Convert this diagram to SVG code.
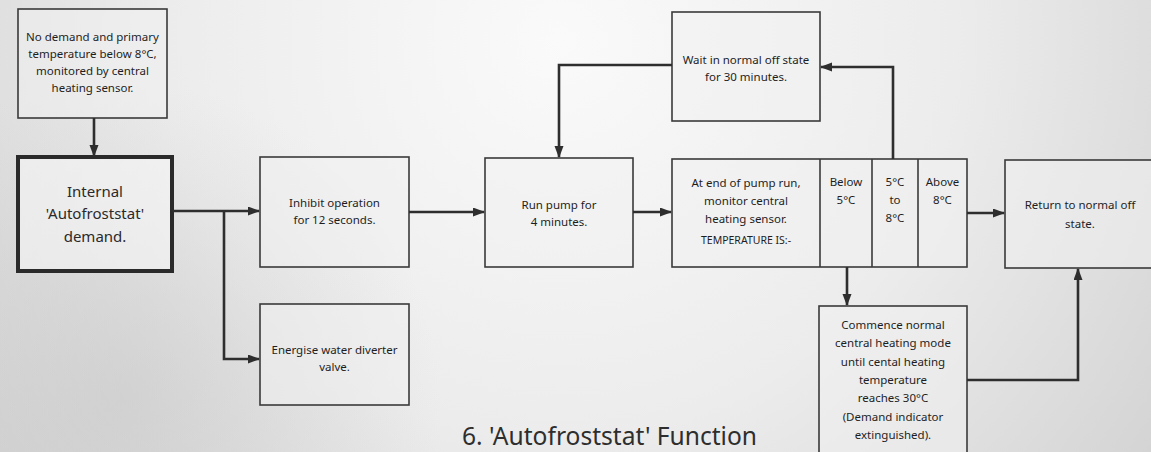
<svg xmlns="http://www.w3.org/2000/svg" width="1151" height="452" viewBox="0 0 1151 452">
<defs>
<style>
.box{fill:#f1f1f1;fill-opacity:0.55;stroke:#3a3a3a;stroke-width:1.6}
.thick{fill:#f6f6f6;fill-opacity:0.6;stroke:#2a2a2a;stroke-width:4}
.t{font-family:"Noto Sans","Open Sans",sans-serif;font-size:11.5px;fill:#1e1e1e;text-anchor:middle}
.tb{font-family:"Noto Sans","Open Sans",sans-serif;font-size:15px;fill:#2a2a2a;text-anchor:middle}
.title{font-family:"Noto Sans","Open Sans",sans-serif;font-size:26px;fill:#2e2e2e}
.c{fill:none;stroke:#2e2e2e;stroke-width:2.6;marker-end:url(#ah)}
.div{stroke:#3a3a3a;stroke-width:1.6}
</style>
<marker id="ah" markerUnits="userSpaceOnUse" markerWidth="12" markerHeight="10" refX="11" refY="4.5" orient="auto">
<path d="M0,0 L12,4.5 L0,9 z" fill="#2e2e2e"/>
</marker>
<radialGradient id="bg1" cx="560" cy="40" r="720" gradientUnits="userSpaceOnUse">
<stop offset="0" stop-color="#fafafa"/>
<stop offset="0.55" stop-color="#ececec"/>
<stop offset="1" stop-color="#d4d4d4"/>
</radialGradient>
<radialGradient id="bg2" cx="120" cy="400" r="320" gradientUnits="userSpaceOnUse">
<stop offset="0" stop-color="#c8c8c8" stop-opacity="0.6"/>
<stop offset="1" stop-color="#c8c8c8" stop-opacity="0"/>
</radialGradient>
</defs>
<rect width="1151" height="452" fill="url(#bg1)"/>
<rect width="1151" height="452" fill="url(#bg2)"/>

<g id="n1">
<rect class="box" x="18" y="9" width="149" height="109"/>
<text class="t" x="92.5" y="41">No demand and primary</text>
<text class="t" x="92.5" y="58">temperature below 8°C,</text>
<text class="t" x="92.5" y="75">monitored by central</text>
<text class="t" x="92.5" y="92">heating sensor.</text>
</g>
<g id="n2">
<rect class="thick" x="18" y="157" width="154" height="114"/>
<text class="tb" x="95" y="197">Internal</text>
<text class="tb" x="95" y="219">'Autofroststat'</text>
<text class="tb" x="95" y="242">demand.</text>
</g>
<g id="n3">
<rect class="box" x="260" y="157" width="149" height="110"/>
<text class="t" x="334.5" y="207">Inhibit operation</text>
<text class="t" x="334.5" y="224">for 12 seconds.</text>
</g>
<g id="n4">
<rect class="box" x="260" y="304" width="149" height="101"/>
<text class="t" x="334.5" y="354">Energise water diverter</text>
<text class="t" x="334.5" y="371">valve.</text>
</g>
<g id="n5">
<rect class="box" x="485" y="158" width="148" height="109"/>
<text class="t" x="559" y="209">Run pump for</text>
<text class="t" x="559" y="226">4 minutes.</text>
</g>
<g id="n6">
<rect class="box" x="672" y="12" width="148" height="109"/>
<text class="t" x="746" y="64">Wait in normal off state</text>
<text class="t" x="746" y="81">for 30 minutes.</text>
</g>
<g id="n7">
<rect class="box" x="672" y="159" width="295" height="108"/>
<line class="div" x1="820" y1="159" x2="820" y2="267"/>
<line class="div" x1="872" y1="159" x2="872" y2="267"/>
<line class="div" x1="918" y1="159" x2="918" y2="267"/>
<text class="t" x="746" y="187">At end of pump run,</text>
<text class="t" x="746" y="205">monitor central</text>
<text class="t" x="746" y="223">heating sensor.</text>
<text class="t" x="746" y="244" style="font-size:10.5px">TEMPERATURE IS:-</text>
<text class="t" x="846" y="186">Below</text>
<text class="t" x="846" y="204">5°C</text>
<text class="t" x="895" y="186">5°C</text>
<text class="t" x="895" y="204">to</text>
<text class="t" x="895" y="222">8°C</text>
<text class="t" x="942.5" y="186">Above</text>
<text class="t" x="942.5" y="204">8°C</text>
</g>
<g id="n8">
<rect class="box" x="819" y="306" width="148" height="152"/>
<text class="t" x="893" y="329">Commence normal</text>
<text class="t" x="893" y="347">central heating mode</text>
<text class="t" x="893" y="366">until cental heating</text>
<text class="t" x="893" y="384">temperature</text>
<text class="t" x="893" y="402">reaches 30°C</text>
<text class="t" x="893" y="421">(Demand indicator</text>
<text class="t" x="893" y="439">extinguished).</text>
</g>
<g id="n9">
<rect class="box" x="1005" y="160" width="152" height="108"/>
<text class="t" x="1080" y="209">Return to normal off</text>
<text class="t" x="1080" y="228">state.</text>
</g>

<g id="connectors">
<path class="c" d="M94,118 V156"/>
<path class="c" d="M172,211 H259"/>
<path class="c" d="M224,211 V359 H259"/>
<path class="c" d="M409,212 H484"/>
<path class="c" d="M633,212 H671"/>
<path class="c" d="M672,65 H559 V157"/>
<path class="c" d="M893,159 V67 H821"/>
<path class="c" d="M847,267 V305"/>
<path class="c" d="M967,213 H1004"/>
<path class="c" d="M967,380 H1078 V269"/>
</g>

<text class="title" x="462" y="445" textLength="295" lengthAdjust="spacingAndGlyphs">6. 'Autofroststat' Function</text>
</svg>
